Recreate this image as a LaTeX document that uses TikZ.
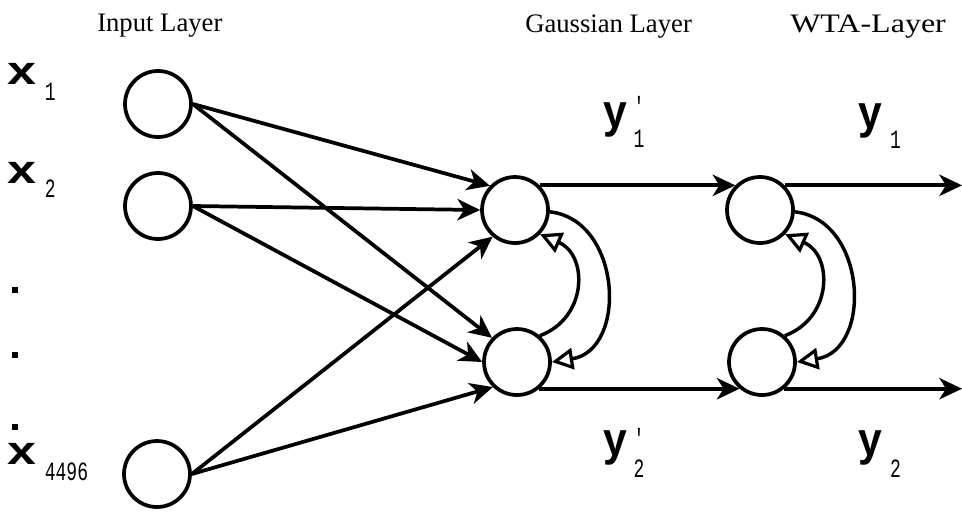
\documentclass[tikz,border=0pt]{standalone}
\usepackage{fontspec}
\usepackage{graphicx}
\setmainfont{Liberation Serif}
\newfontfamily\labfont{Liberation Sans}
\newfontfamily\subfont{Liberation Mono}
\usetikzlibrary{arrows.meta}
\newcommand{\bigx}[1]{{\labfont\bfseries\fontsize{30}{30}\selectfont\scalebox{1.3}[1]{#1}}}
\newcommand{\bigy}[1]{{\labfont\bfseries\fontsize{32}{32}\selectfont\scalebox{1}[1.1]{#1}}}
\newcommand{\smidx}[1]{{\subfont\fontsize{18}{18}\selectfont\scalebox{0.75}[1.1]{#1}}}
\begin{document}
\begin{tikzpicture}[x=0.75pt,y=-0.75pt,
  neuron/.style={circle,draw,line width=2.8pt,minimum size=49.5pt,inner sep=0pt},
  link/.style={line width=2.8pt,-{Stealth[length=17pt,width=16pt,inset=5pt]}},
  fb/.style={line width=2.6pt,-{Triangle[open,length=16pt,width=16pt,line width=2.4pt]}},
  title/.style={font=\fontsize{20}{24}\selectfont,anchor=base west,inner sep=0pt},
  lab/.style={anchor=base west,inner sep=0pt},
  dotmark/.style={fill,minimum size=4.5pt,inner sep=0pt}]
\useasboundingbox (0,0) rectangle (962,511);
% titles
\node[title] (tin) at (97,31) {Input Layer};
\node[title] (tg) at (525,32) {Gaussian Layer};
\node[title] (tw) at (790,32) {\scalebox{1.2}[1]{WTA-Layer}};
% neurons
\node[neuron] (i1) at (158,104) {};
\node[neuron] (i2) at (158,206) {};
\node[neuron] (i3) at (157,474) {};
\node[neuron] (g1) at (515,210) {};
\node[neuron] (g2) at (517,362) {};
\node[neuron] (w1) at (760,210) {};
\node[neuron] (w2) at (762,362) {};
% input labels
\node[lab] (x1) at (7,84) {\bigx{x}\hspace{6.5pt}\raisebox{-12pt}{\smidx{1}}};
\node[lab] (x2) at (7,183) {\bigx{x}\hspace{6.5pt}\raisebox{-10.5pt}{\smidx{2}}};
\node[lab] (x3) at (7,464) {\bigx{x}\hspace{6.5pt}\raisebox{-12pt}{\smidx{4496}}};
\node[dotmark] (d1) at (15,290) {};
\node[dotmark] (d2) at (15,355) {};
\node[dotmark] (d3) at (15,427) {};
% output labels
\node[lab] (ya) at (603,127) {\bigy{y}\hspace{5pt}\rlap{\raisebox{9pt}{\smidx{'}}}\raisebox{-15pt}{\smidx{1}}};
\node[lab] (yb) at (858,128) {\bigy{y}\hspace{6pt}\raisebox{-15pt}{\smidx{1}}};
\node[lab] (yc) at (603,455) {\bigy{y}\hspace{5pt}\rlap{\raisebox{6pt}{\smidx{'}}}\raisebox{-17pt}{\smidx{2}}};
\node[lab] (yd) at (858,455) {\bigy{y}\hspace{6pt}\raisebox{-17pt}{\smidx{2}}};
% input to gaussian
\draw[link] (i1.east) -- (g1.136);
\draw[link] (i1.east) -- (g2.136);
\draw[link] (i2.east) -- (g1.180);
\draw[link] (i2.east) -- (g2.180);
\draw[link] (i3.east) -- (g1.230);
\draw[link] (i3.east) -- (g2.226);
% gaussian to wta
\draw[link] (g1.45) -- (w1.135);
\draw[link] (g2.-50) -- (w2.-130);
% outputs
\coordinate (o1) at (962,185);
\coordinate (o2) at (962,390);
\draw[link] (w1.45) -- (w1.45 -| o1);
\draw[link] (w2.-50) -- (w2.-50 -| o2);
% lateral feedback
\draw[fb] (g1.-3) .. controls +(72,8) and +(76,-12) .. (g2.east);
\draw[fb] (g2.49) .. controls +(48,-18) and +(48,21) .. (g1.-44);
\draw[fb] (w1.-3) .. controls +(72,8) and +(76,-12) .. (w2.east);
\draw[fb] (w2.49) .. controls +(48,-18) and +(48,21) .. (w1.-44);
\end{tikzpicture}
\end{document}
